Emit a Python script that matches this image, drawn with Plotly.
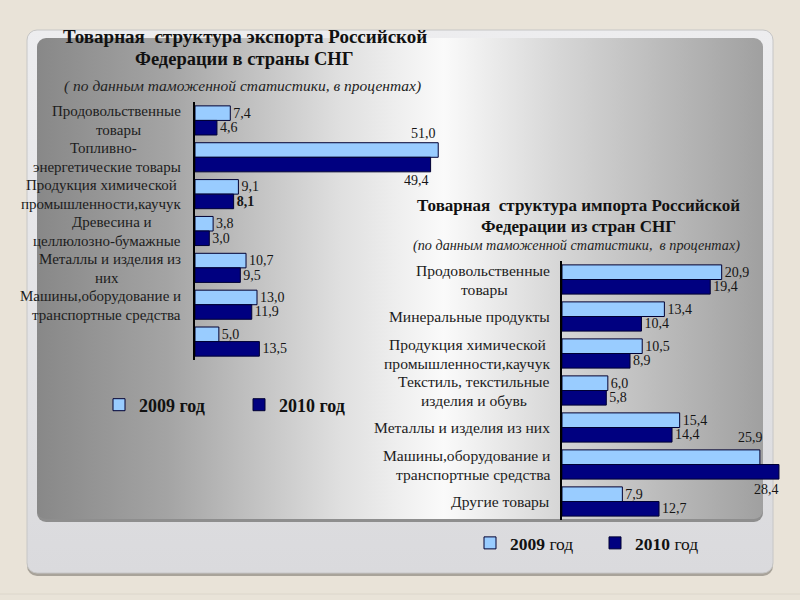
import base64
import plotly.graph_objects as go

W, H = 800, 600

# ---------------- data ----------------
series_names = ["2009 год", "2010 год"]

exp_categories = [
    "Продовольственные<br>товары",
    "Топливно-<br>энергетические товары",
    "Продукция химической<br>промышленности,каучук",
    "Древесина и<br>целлюлозно-бумажные",
    "Металлы и изделия из<br>них",
    "Машины,оборудование и<br>транспортные средства",
    "",
]
exp_2009 = [7.4, 51.0, 9.1, 3.8, 10.7, 13.0, 5.0]
exp_2010 = [4.6, 49.4, 8.1, 3.0, 9.5, 11.9, 13.5]

imp_categories = [
    "Продовольственные<br>товары",
    "Минеральные продукты",
    "Продукция химической<br>промышленности,каучук",
    "Текстиль, текстильные<br>изделия и обувь",
    "Металлы и изделия из них",
    "Машины,оборудование и<br>транспортные средства",
    "Другие товары",
]
imp_2009 = [20.9, 13.4, 10.5, 6.0, 15.4, 25.9, 7.9]
imp_2010 = [19.4, 10.4, 8.9, 5.8, 14.4, 28.4, 12.7]

exp_title = ["<b>Товарная\u00a0 структура экспорта Российской</b>", "<b>Федерации в страны СНГ</b>"]
exp_sub = "<i>( по данным таможенной статистики, в процентах)</i>"
imp_title = ["<b>Товарная\u00a0 структура импорта Российской</b>", "<b>Федерации из стран СНГ</b>"]
imp_sub = "<i>(по данным таможенной статистики,\u00a0 в процентах)</i>"

# ---------------- style ----------------
SERIF = "Liberation Serif, Times New Roman, serif"
C2009 = "#99CCFF"
C2010 = "#000080"
EDGE = "#000033"
TXT = "#151515"


def px(x):
    return x / W


def py(y):
    return 1 - y / H


def fmt(v):
    return f"{v:.1f}".replace(".", ",")


# labels of long bars placed above / below the bar end instead of beside it
special = {("exp", 0, 1): ("above", 14, 0), ("exp", 1, 1): ("below", -14, 0),
           ("imp", 0, 5): ("above", 18, 5), ("imp", 1, 5): ("below", -15, 2)}
bold_labels = {("exp", 1, 2)}

# ---------------- background (decorative) ----------------
svg = f"""<svg xmlns='http://www.w3.org/2000/svg' width='{W}' height='{H}' viewBox='0 0 {W} {H}' preserveAspectRatio='none'>
<defs>
<linearGradient id='g' x1='0' x2='1' y1='0' y2='0'>
<stop offset='0' stop-color='#888888'/>
<stop offset='0.18' stop-color='#A4A4A4'/>
<stop offset='0.42' stop-color='#E0E0E0'/>
<stop offset='0.56' stop-color='#FAFAFA'/>
<stop offset='0.72' stop-color='#D6D6D6'/>
<stop offset='1' stop-color='#A0A0A0'/>
</linearGradient>
<linearGradient id='o' x1='0' x2='0' y1='0' y2='1'>
<stop offset='0' stop-color='#EDEDEF'/>
<stop offset='1' stop-color='#DADADD'/>
</linearGradient>
</defs>
<rect width='{W}' height='{H}' fill='#E9E3D8'/>
<line x1='0' y1='594' x2='{W}' y2='594' stroke='#DCD6CB' stroke-width='1'/>
<rect x='27' y='33' width='746' height='543' rx='10' fill='#A8A39A'/>
<rect x='27' y='30' width='746' height='543' rx='10' fill='url(#o)' stroke='#C6C6C6' stroke-width='1'/>
<rect x='37' y='41' width='726' height='481' rx='9' fill='#8E8E8E'/>
<rect x='37' y='38' width='726' height='481' rx='9' fill='url(#g)'/>
</svg>"""
bg_src = "data:image/svg+xml;base64," + base64.b64encode(svg.encode("utf-8")).decode("ascii")

fig = go.Figure()

charts = [
    ("exp", exp_categories, [exp_2009, exp_2010], "x", "y", "legend"),
    ("imp", imp_categories, [imp_2009, imp_2010], "x2", "y2", "legend2"),
]
legend_names = {
    "legend": ["<b>" + n + "</b>" for n in series_names],
    "legend2": ["<b>" + n.split(" ")[0] + "</b> " + n.split(" ")[1] for n in series_names],
}

annotations = []
for key, cats, series, xa, ya, lg in charts:
    idx = list(range(len(cats)))
    for s, vals in enumerate(series):
        texts = []
        for i, v in enumerate(vals):
            if (key, s, i) in special:
                texts.append("")
                where, ysh, xsh = special[(key, s, i)]
                annotations.append(dict(
                    x=v, y=i, xref=xa, yref=ya, text=fmt(v), showarrow=False,
                    xanchor="right", yanchor="bottom" if where == "above" else "top",
                    yshift=ysh, xshift=xsh,
                    font=dict(family=SERIF, size=14, color=TXT)))
            elif (key, s, i) in bold_labels:
                texts.append("<b>" + fmt(v) + "</b>")
            else:
                texts.append(fmt(v))
        fig.add_trace(go.Bar(
            x=vals, y=idx, orientation="h", xaxis=xa, yaxis=ya,
            name=legend_names[lg][s], legend=lg,
            marker=dict(color=C2009 if s == 0 else C2010, line=dict(color=EDGE, width=1)),
            text=texts, textposition="outside", cliponaxis=False, constraintext="none",
            textfont=dict(family=SERIF, size=14, color=TXT),
            hoverinfo="skip",
        ))
    # category labels: right-aligned block, lines centred within it
    right_px = 183 if key == "exp" else 552
    label_size = 15 if key == "exp" else 15.6
    for i, c in enumerate(cats):
        if not c:
            continue
        lines = c.split("<br>")
        shifts = [0] if len(lines) == 1 else [9, -10]
        # width-independent centring: anchor every line at the block centre
        block_w = max(len(l) for l in lines)
        for ln, ysh in zip(lines, shifts):
            annotations.append(dict(
                x=px(right_px), y=i, xref="paper", yref=ya, text=ln, showarrow=False,
                xanchor="right", yanchor="middle", yshift=ysh,
                xshift=-(block_w - len(ln)) * label_size * 0.245,
                font=dict(family=SERIF, size=label_size, color="#1c1c1c")))

# titles
title_specs = [
    (exp_title[0], 245, 37, 19, "#111"),
    (exp_title[1], 244, 59, 18.5, "#111"),
    (exp_sub, 242, 86, 15.5, "#222"),
    (imp_title[0], 578, 205, 17, "#111"),
    (imp_title[1], 578, 226, 17, "#111"),
    (imp_sub, 576, 245, 14.2, "#222"),
]
for txt, cx, cy, sz, col in title_specs:
    annotations.append(dict(x=px(cx), y=py(cy), xref="paper", yref="paper", text=txt,
                            showarrow=False, xanchor="center", yanchor="middle",
                            font=dict(family=SERIF, size=sz, color=col)))

yax = dict(range=[6.5, -0.5], showline=True, linecolor="#000", linewidth=1.5,
           showticklabels=False, ticks="", showgrid=False, zeroline=False)

fig.update_layout(
    width=W, height=H, autosize=False,
    margin=dict(l=0, r=0, t=0, b=0, pad=0),
    paper_bgcolor="#E9E3D8", plot_bgcolor="rgba(0,0,0,0)",
    barmode="group", bargap=0.21, bargroupgap=0,
    xaxis=dict(domain=[px(195), px(443)], range=[0, 52], visible=False, anchor="y"),
    yaxis=dict(domain=[py(360), py(102)], anchor="x", **yax),
    xaxis2=dict(domain=[px(562), px(791.2)], range=[0, 30], visible=False, anchor="y2"),
    yaxis2=dict(domain=[py(520), py(261)], anchor="x2", **yax),
    legend=dict(orientation="h", x=px(99), y=py(405), xanchor="left", yanchor="middle",
                entrywidth=95, entrywidthmode="pixels", bgcolor="rgba(0,0,0,0)",
                font=dict(family=SERIF, size=18, color="#111"), traceorder="normal"),
    legend2=dict(orientation="h", x=px(470), y=py(543), xanchor="left", yanchor="middle",
                 entrywidth=80, entrywidthmode="pixels", bgcolor="rgba(0,0,0,0)",
                 font=dict(family=SERIF, size=17.5, color="#111"), traceorder="normal"),
    annotations=annotations,
    images=[dict(source=bg_src, xref="paper", yref="paper", x=0, y=1, sizex=1, sizey=1,
                 xanchor="left", yanchor="top", sizing="stretch", layer="below")],
    showlegend=True,
)

fig.write_html(
    "out.html",
    config={"displayModeBar": False, "responsive": False},
    post_script=(
        "document.body.style.margin='0';document.body.style.overflow='hidden';"
        "var gd=document.getElementById('{plot_id}');"
        "Plotly.relayout(gd,{width:800,height:600});"
    ),
)
